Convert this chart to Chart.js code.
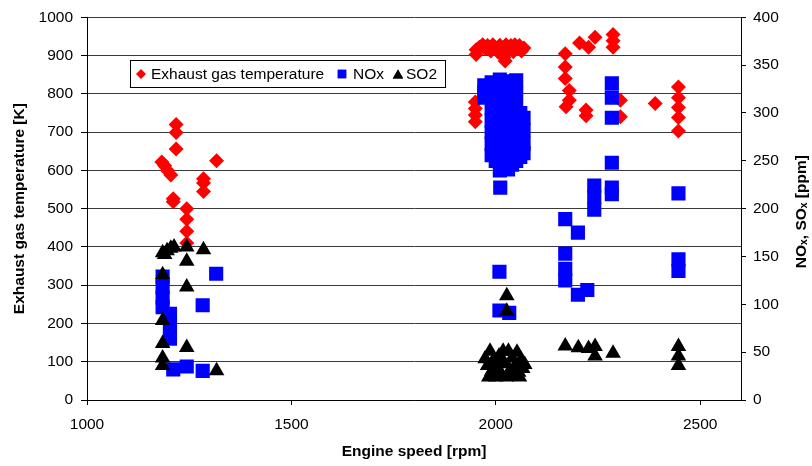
<!DOCTYPE html>
<html>
<head>
<meta charset="utf-8">
<script src="https://cdn.jsdelivr.net/npm/chart.js@4.4.1/dist/chart.umd.min.js"></script>
<style>
  html, body { margin: 0; padding: 0; background: #fff; }
  #wrap { width: 812px; height: 466px; position: relative; }
</style>
</head>
<body>
<div id="wrap"><canvas id="c" width="812" height="466"></canvas></div>
<script>
// Exhaust gas temperature [K] vs engine speed [rpm]
const tempRpm = [
  1218, 1218, 1218, 1183, 1190, 1197, 1205, 1317, 1285, 1285, 1285, 1211, 1211, 1244, 1244, 1244, 1244,
  1950, 1950, 1950, 1950, 1952, 1952, 1960, 1968, 1975, 1980, 1988, 1993, 2000, 2005, 2010, 2017, 2022,
  2025, 2023, 2020, 2032, 2037, 2043, 2047, 2053, 2058, 2063, 2069,
  2170, 2170, 2170, 2180, 2180, 2172, 2205, 2227, 2243, 2221, 2221, 2287, 2287, 2287, 2305, 2305, 2390,
  2447, 2447, 2447, 2447, 2447
];
const tempK = [
  720, 699, 656, 622, 612, 600, 588, 625, 578, 567, 545, 526, 518, 500, 472, 441, 410,
  779, 762, 745, 727, 915, 903, 922, 928, 918, 926, 912, 928, 920, 910, 927, 918, 905,
  928, 886, 895, 915, 926, 910, 928, 918, 926, 912, 920,
  905, 870, 840, 809, 783, 766, 933, 922, 948, 758, 743, 955, 939, 922, 783, 740, 775,
  818, 790, 764, 738, 703
];

// NOx [ppm] vs engine speed [rpm]
const noxRpm = [
  1185, 1185, 1185, 1185, 1203, 1203, 1203, 1203, 1211, 1244, 1283, 1316, 1283,
  1972, 1972, 1972,
  1990, 1990, 1990, 1990, 1990, 1990, 1990,
  2000, 2000, 2000, 2000, 2000, 2000, 2000,
  2010, 2010, 2010, 2010, 2010, 2010, 2010, 2010,
  2020, 2020, 2020, 2020, 2020, 2020, 2020,
  2030, 2030, 2030, 2030, 2030, 2030, 2030, 2030,
  2040, 2040, 2040, 2040, 2040, 2040, 2040,
  2050, 2050, 2050, 2050, 2050, 2050, 2050,
  2060, 2060, 2060, 2060, 2060,
  2068, 2068, 2068, 2068,
  2011, 2009, 2009, 2033,
  2284, 2284, 2284, 2284, 2284, 2284, 2241, 2241, 2241, 2447, 2170, 2201, 2170, 2170, 2170, 2201, 2224,
  2447, 2447
];
const noxPpm = [
  129, 118, 107, 97, 90, 80, 69, 64, 32, 35, 30.5, 132, 99,
  329, 322, 316,
  332, 318, 305, 292, 280, 268, 256,
  326, 310, 298, 285, 272, 260, 250,
  335, 322, 308, 295, 280, 265, 252, 240,
  330, 315, 300, 287, 275, 262, 248,
  333, 320, 306, 292, 278, 266, 255, 241,
  328, 314, 300, 285, 270, 258, 246,
  334, 320, 305, 290, 276, 262, 250,
  300, 288, 275, 262, 254,
  295, 282, 268, 258,
  222, 134, 93.5, 91,
  331, 316, 295, 248, 222, 215, 224, 212, 199, 216, 189, 175, 153, 137, 125, 110, 115,
  147, 135
];

// SO2 [ppm] vs engine speed [rpm]
const so2Rpm = [
  1185, 1190, 1196, 1205, 1213, 1244, 1285, 1244, 1185, 1244, 1185, 1185, 1244, 1185, 1185, 1317,
  2027, 2027,
  1974, 1980, 1986, 1990, 1995, 2000, 2003, 2008, 2012, 2018, 2022, 2026, 2031, 2035, 2040, 2044,
  2048, 2052, 2056, 2062, 2066, 2071, 1983, 2058, 2015, 1995,
  2170, 2202, 2227, 2243, 2243, 2287, 2447, 2447, 2447
];
const so2Ppm = [
  154, 152, 156, 158.6, 160, 160, 157, 145, 131, 118, 83, 59, 55, 44, 36, 30.5,
  109, 92.8,
  43, 36, 51, 30, 42, 24, 35, 46, 28, 51, 38, 24, 51, 31, 44, 25,
  36, 50, 29, 42, 33, 37, 24, 24, 40, 28,
  56.4, 54.7, 53.7, 55.8, 46, 48.8, 55.8, 46, 36
];

// x-axis tick values
const speedTicks = [1000, 1500, 2000, 2500];

const toPoints = (xs, ys) => xs.map((x, i) => ({ x: x, y: ys[i] }));
const plainNumber = (v) => String(v);

const FONT = 'Liberation Sans, Arial, sans-serif';
const tickFont = { family: FONT, size: 15.5 };

// Axis titles drawn by hand so the right one reads bottom-to-top like the left one
const axisTitles = {
  id: 'axisTitles',
  afterDraw(chart) {
    const { ctx, chartArea } = chart;
    const midY = (chartArea.top + chartArea.bottom) / 2;
    ctx.save();
    ctx.fillStyle = '#000';
    ctx.font = 'bold 15.5px ' + FONT;
    ctx.textAlign = 'center';
    ctx.textBaseline = 'middle';
    ctx.fillText('Engine speed [rpm]', (chartArea.left + chartArea.right) / 2, 452);
    ctx.save();
    ctx.translate(20, midY);
    ctx.rotate(-Math.PI / 2);
    ctx.fillText('Exhaust gas temperature [K]', 0, 0);
    ctx.restore();
    ctx.save();
    ctx.translate(802, midY + 3);
    ctx.rotate(-Math.PI / 2);
    ctx.fillText('NO\u2093, SO\u2093 [ppm]', 0, 0);
    ctx.restore();
    ctx.restore();
  }
};

// Boxed legend sitting inside the plot area
const boxLegend = {
  id: 'boxLegend',
  afterDatasetsDraw(chart) {
    const { ctx } = chart;
    const bx = 130.5, by = 60.5, bw = 315, bh = 27;
    const cy = by + bh / 2;
    ctx.save();
    ctx.fillStyle = '#fff';
    ctx.fillRect(bx, by, bw, bh);
    ctx.strokeStyle = '#000';
    ctx.lineWidth = 1;
    ctx.strokeRect(bx, by, bw, bh);
    const items = [
      { style: 'rectRot', color: '#ff0000', r: 5, mx: 141, tx: 151, text: 'Exhaust gas temperature' },
      { style: 'rect', color: '#0000ff', r: 6, mx: 342, tx: 353, text: 'NOx' },
      { style: 'triangle', color: '#000000', r: 6, mx: 398, tx: 406, text: 'SO2' }
    ];
    ctx.font = '15.5px ' + FONT;
    ctx.textAlign = 'left';
    ctx.textBaseline = 'middle';
    items.forEach(it => {
      Chart.helpers.drawPoint(ctx, {
        pointStyle: it.style, radius: it.r, borderWidth: 0, rotation: 0
      }, it.mx, it.style === 'triangle' ? cy + 1.5 : cy);
      ctx.fillStyle = it.color;
      ctx.fill();
      ctx.fillStyle = '#000';
      ctx.fillText(it.text, it.tx, cy + 1);
    });
    ctx.restore();
  }
};

new Chart(document.getElementById('c'), {
  type: 'scatter',
  data: {
    datasets: [
      {
        label: 'Exhaust gas temperature',
        data: toPoints(tempRpm, tempK),
        yAxisID: 'y',
        pointStyle: 'rectRot',
        pointRadius: 7.5,
        backgroundColor: '#ff0000',
        borderColor: '#ff0000',
        borderWidth: 0,
        order: 3
      },
      {
        label: 'NOx',
        data: toPoints(noxRpm, noxPpm),
        yAxisID: 'y1',
        pointStyle: 'rect',
        pointRadius: 10,
        backgroundColor: '#0000ff',
        borderColor: '#0000ff',
        borderWidth: 0,
        order: 2
      },
      {
        label: 'SO2',
        data: toPoints(so2Rpm, so2Ppm),
        yAxisID: 'y1',
        pointStyle: 'triangle',
        pointRadius: 9,
        backgroundColor: '#000000',
        borderColor: '#000000',
        borderWidth: 0,
        order: 1
      }
    ]
  },
  options: {
    responsive: false,
    animation: false,
    events: [],
    layout: { padding: { top: 15, left: 0, right: 0, bottom: 0 } },
    plugins: {
      legend: { display: false },
      tooltip: { enabled: false },
      title: { display: false }
    },
    scales: {
      x: {
        type: 'linear',
        position: 'bottom',
        min: 1000,
        max: 2600,
        afterBuildTicks: (s) => { s.ticks = speedTicks.map(v => ({ value: v })); },
        afterFit: (s) => { s.height = 66; },
        ticks: { font: tickFont, color: '#000', padding: 10, maxRotation: 0, callback: plainNumber },
        grid: { drawOnChartArea: false, drawTicks: true, tickLength: 5, color: '#000' },
        border: { display: true, color: '#000', width: 1 }
      },
      y: {
        type: 'linear',
        position: 'left',
        min: 0,
        max: 1000,
        ticks: { stepSize: 100, font: tickFont, color: '#000', padding: 8, callback: plainNumber },
        afterFit: (s) => { s.width = 87; },
        grid: { color: '#3a3a3a', lineWidth: 1, tickLength: 6, tickColor: '#000' },
        border: { display: true, color: '#000', width: 1 }
      },
      y1: {
        type: 'linear',
        position: 'right',
        min: 0,
        max: 400,
        ticks: { stepSize: 50, font: tickFont, color: '#000', padding: 7, callback: plainNumber },
        afterFit: (s) => { s.width = 71; },
        grid: { drawOnChartArea: false, tickLength: 5, color: '#000' },
        border: { display: true, color: '#000', width: 1 }
      }
    }
  },
  plugins: [boxLegend, axisTitles]
});
</script>
</body>
</html>
